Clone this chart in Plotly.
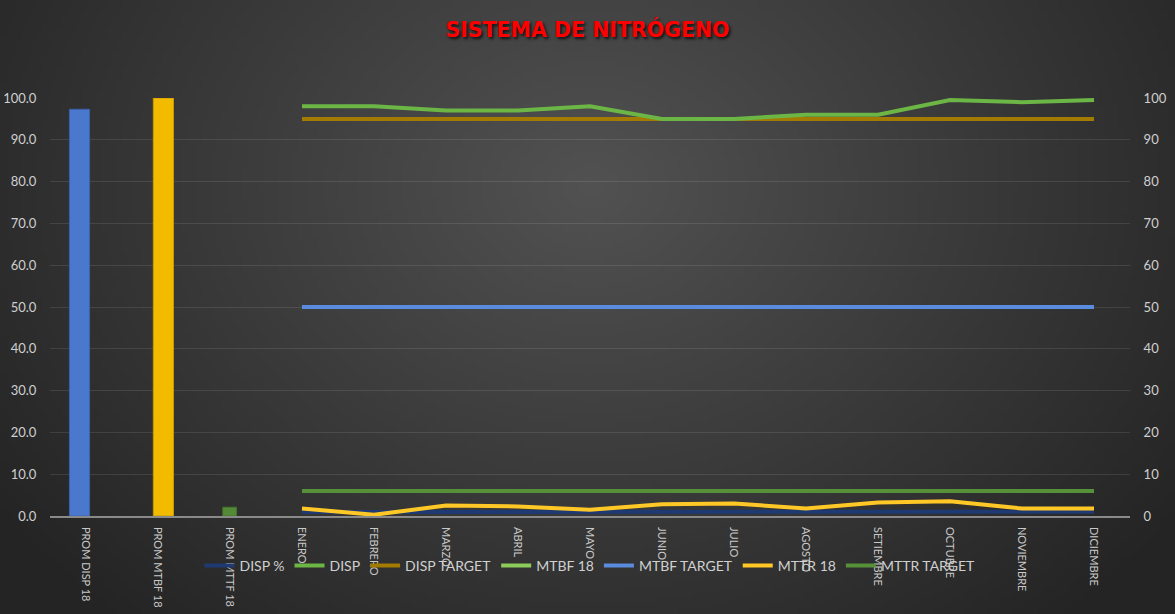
import base64
import struct
import zlib

import numpy as np
import plotly.graph_objects as go

# ---- data -------------------------------------------------------------
categories = ["PROM DISP 18", "PROM MTBF 18", "PROM MTTF 18",
              "ENERO", "FEBRERO", "MARZO", "ABRIL", "MAYO", "JUNIO",
              "JULIO", "AGOSTO", "SETIEMBRE", "OCTUBRE", "NOVIEMBRE", "DICIEMBRE"]
months = categories[3:]

prom_disp = 97.3
prom_mtbf = 100.0
prom_mttf = 2.1

disp_pct = [0.98, 0.98, 0.97, 0.97, 0.98, 0.95, 0.95, 0.96, 0.96, 0.995, 0.99, 0.995]
disp = [98.0, 98.0, 97.0, 97.0, 98.0, 95.0, 95.0, 96.0, 96.0, 99.5, 99.0, 99.5]
disp_target = [95] * 12
mtbf_18 = [None] * 12
mtbf_target = [50] * 12
mttr_18 = [1.8, 0.3, 2.5, 2.3, 1.5, 2.8, 3.0, 1.8, 3.2, 3.5, 1.8, 1.8]
mttr_target = [6] * 12

left_ticks = [0, 10, 20, 30, 40, 50, 60, 70, 80, 90, 100]

# ---- figure geometry --------------------------------------------------
W, H = 1175, 614
ML, MR, MT, MB = 50, 45, 98, 98
PW, PH = W - ML - MR, H - MT - MB


def gradient_png(w, h):
    """Radial dark-grey backdrop encoded as a PNG data URI."""
    yy, xx = np.mgrid[0:h, 0:w].astype(float)
    cx, cy = 0.50 * w, 0.30 * h
    d = np.sqrt(((xx - cx) / (0.62 * w)) ** 2 + ((yy - cy) / (0.95 * h)) ** 2)
    d = np.clip(d, 0, 1)
    v = (0x52 * (1 - d) + 0x24 * d).astype(np.uint8)
    rgb = np.dstack([v, v, v])
    raw = b"".join(b"\x00" + row.tobytes() for row in rgb)

    def chunk(tag, data):
        c = struct.pack(">I", len(data)) + tag + data
        return c + struct.pack(">I", zlib.crc32(tag + data) & 0xFFFFFFFF)

    png = (b"\x89PNG\r\n\x1a\n"
           + chunk(b"IHDR", struct.pack(">IIBBBBB", w, h, 8, 2, 0, 0, 0))
           + chunk(b"IDAT", zlib.compress(raw, 9))
           + chunk(b"IEND", b""))
    return "data:image/png;base64," + base64.b64encode(png).decode()


fig = go.Figure()

# average bars on the left axis
fig.add_trace(go.Bar(x=[categories[0]], y=[prom_disp], width=0.28, offset=-0.23,
                     marker=dict(color="#4a78cc", line=dict(color="#3a62ad", width=1)),
                     showlegend=False, hoverinfo="y"))
fig.add_trace(go.Bar(x=[categories[1]], y=[prom_mtbf], width=0.28, offset=-0.065,
                     marker=dict(color="#f2bb00", line=dict(color="#c99a00", width=1)),
                     showlegend=False, hoverinfo="y"))
fig.add_trace(go.Bar(x=[categories[2]], y=[prom_mttf], width=0.19, offset=-0.10,
                     marker=dict(color="#548a36", line=dict(color="#46752c", width=1)),
                     showlegend=False, hoverinfo="y"))

# monthly lines on the secondary axis
line_specs = [
    ("DISP %", disp_pct, "#1f3a72"),
    ("DISP", disp, "#6cb645"),
    ("DISP TARGET", disp_target, "#a27b00"),
    ("MTBF 18", mtbf_18, "#8ccc5a"),
    ("MTBF TARGET", mtbf_target, "#5b8bdc"),
    ("MTTR 18", mttr_18, "#ffc826"),
    ("MTTR TARGET", mttr_target, "#56913a"),
]
draw_order = ["DISP %", "MTBF TARGET", "MTTR TARGET", "DISP TARGET", "DISP", "MTBF 18", "MTTR 18"]
legend_rank = {name: i for i, (name, _, _) in enumerate(line_specs)}
spec = {name: (vals, col) for name, vals, col in line_specs}
for name in draw_order:
    vals, col = spec[name]
    fig.add_trace(go.Scatter(x=months, y=vals, name=name, mode="lines",
                             line=dict(color=col, width=4),
                             legendrank=legend_rank[name] + 1, yaxis="y2"))

tick_font = dict(family="Lato, 'Open Sans', sans-serif", size=13, color="#d0d0d0")

fig.update_layout(
    width=W, height=H,
    margin=dict(l=ML, r=MR, t=MT, b=MB, pad=0),
    paper_bgcolor="#333333",
    plot_bgcolor="rgba(0,0,0,0)",
    barmode="overlay",
    title=dict(text="<b>SISTEMA DE NITRÓGENO</b>", x=0.5, xanchor="center",
               y=1 - 30 / H, yanchor="middle",
               font=dict(family="'DejaVu Sans', sans-serif", size=20.5, color="#ff0000",
                         shadow="2px 2px 3px rgba(0,0,0,0.75)")),
    xaxis=dict(type="category", categoryorder="array", categoryarray=categories,
               range=[-0.5, len(categories) - 0.5], tickangle=90, automargin=False,
               tickfont=dict(family="Lato, 'Open Sans', sans-serif", size=11, color="#c8c8c8"),
               showgrid=False, showline=True, linecolor="#8a8a8a", linewidth=1.5,
               ticks="outside", ticklen=7, tickcolor="rgba(0,0,0,0)", zeroline=False),
    yaxis=dict(range=[0, 100], tickvals=left_ticks, tickformat=".1f", automargin=False,
               tickfont=tick_font, showgrid=True, gridcolor="rgba(255,255,255,0.10)",
               gridwidth=1, zeroline=False, ticks="outside", ticklen=10,
               tickcolor="rgba(0,0,0,0)", showline=False),
    yaxis2=dict(range=[0, 100], tickvals=left_ticks, overlaying="y", side="right",
                automargin=False, tickfont=tick_font, showgrid=False, zeroline=False,
                ticks="outside", ticklen=10, tickcolor="rgba(0,0,0,0)", showline=False),
    legend=dict(orientation="h", x=0.5, xanchor="center", y=-(566 - 516) / PH,
                yanchor="middle", font=dict(family="Lato, 'Open Sans', sans-serif",
                                             size=14, color="#d0d0d0"),
                bgcolor="rgba(0,0,0,0)", traceorder="normal"),
    images=[dict(source=gradient_png(235, 123), xref="paper", yref="paper",
                 x=-ML / PW, y=1 + MT / PH, sizex=W / PW, sizey=H / PH,
                 xanchor="left", yanchor="top", sizing="stretch", layer="below")],
    showlegend=True,
)

fig.write_html("out.html")
